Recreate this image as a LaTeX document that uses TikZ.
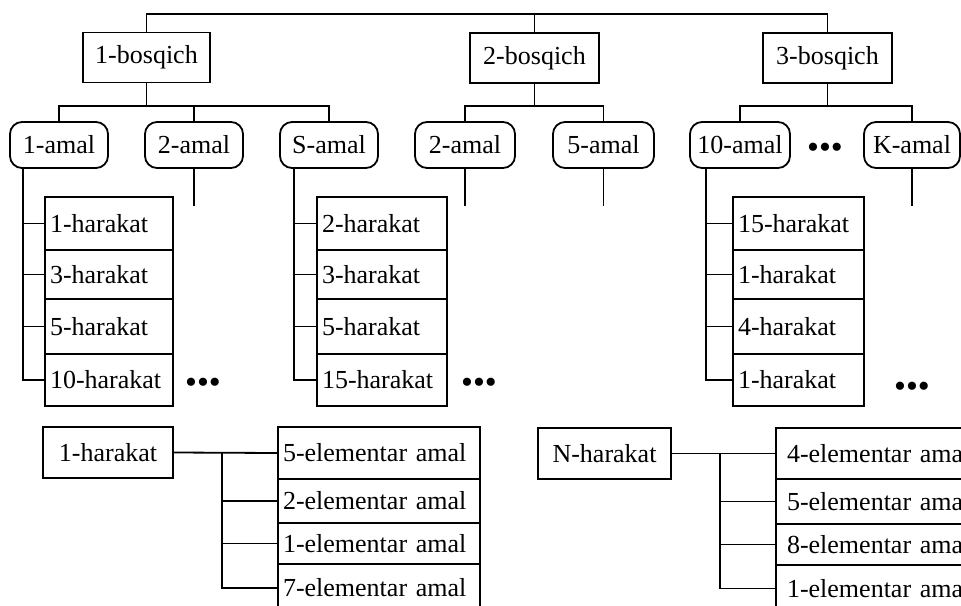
\documentclass[tikz,border=0pt]{standalone}
\usepackage{fontspec}
\setmainfont{Liberation Serif}
\begin{document}
\begin{tikzpicture}[x=1pt,y=-1pt,line width=1.8pt,
  base/.style={draw, line width=1.8pt, inner sep=0pt, font=\fontsize{26}{28}\selectfont},
  bx/.style={base, rectangle},
  am/.style={base, rounded corners=12pt, minimum height=46pt},
  hr/.style={base, rectangle, inner xsep=5pt, inner ysep=0pt, align=left},
  dots/.style={inner sep=0pt, font=\fontsize{34}{36}\selectfont}]
\useasboundingbox (0,0) rectangle (961,605);
\clip (0,0) rectangle (961,605);

% stages
\node[bx, minimum width=127pt, minimum height=50pt] (b1) at (146.5,57.5) {1-bosqich};
\node[bx, minimum width=129pt, minimum height=50pt] (b2) at (534.5,58) {2-bosqich};
\node[bx, minimum width=129pt, minimum height=50pt] (b3) at (827.5,58) {3-bosqich};
\coordinate (top) at (0,14);
\draw (b1.north) -- (b1.north |- top) -- (b3.north |- top) -- (b3.north);
\draw (b2.north) -- (b2.north |- top);

% actions
\node[am, minimum width=98pt] (a1) at (59,145) {1-amal};
\node[am, minimum width=98pt] (a2) at (194,145) {2-amal};
\node[am, minimum width=98pt] (aS) at (329,145) {S-amal};
\node[am, minimum width=100pt] (a22) at (465,145) {2-amal};
\node[am, minimum width=101pt] (a5) at (603.5,145) {5-amal};
\node[am, minimum width=100pt] (a10) at (740,145) {10-amal};
\node[dots] (dt) at (825,151) {•••};
\node[am, minimum width=96pt] (aK) at (912,145) {K-amal};

\coordinate (l1) at (0,106);
\draw (b1.south) -- (b1.south |- l1);
\draw (a1.north) -- (a1.north |- l1) -- (aS.north |- l1) -- (aS.north);
\draw (a2.north) -- (a2.north |- l1);
\draw (b2.south) -- (b2.south |- l1);
\draw (a22.north) -- (a22.north |- l1) -- (a5.north |- l1) -- (a5.north);
\draw (b3.south) -- (b3.south |- l1);
\draw (a10.north) -- (a10.north |- l1) -- (aK.north |- l1) -- (aK.north);

% short stems
\coordinate (e) at (0,206);
\draw (a2.south) -- (a2.south |- e);
\draw (a22.south) -- (a22.south |- e);
\draw (a5.south) -- (a5.south |- e);
\draw (aK.south) -- (aK.south |- e);

% harakat column 1
\node[hr, text width=118pt, minimum height=53pt] (h11) at (109,223.5) {1-harakat};
\node[hr, text width=118pt, minimum height=49pt] (h12) at (109,274.5) {3-harakat};
\node[hr, text width=118pt, minimum height=55pt] (h13) at (109,326.5) {5-harakat};
\node[hr, text width=118pt, minimum height=52pt] (h14) at (109,380) {10-harakat};
\node[dots] (d1) at (203,386) {•••};
% harakat column 2
\node[hr, text width=120pt, minimum height=53pt] (h21) at (382,223.5) {2-harakat};
\node[hr, text width=120pt, minimum height=49pt] (h22) at (382,274.5) {3-harakat};
\node[hr, text width=120pt, minimum height=55pt] (h23) at (382,326.5) {5-harakat};
\node[hr, text width=120pt, minimum height=52pt] (h24) at (382,380) {15-harakat};
\node[dots] (d2) at (479,386) {•••};
% harakat column 3
\node[hr, text width=121pt, minimum height=53pt] (h31) at (798.5,223.5) {15-harakat};
\node[hr, text width=121pt, minimum height=49pt] (h32) at (798.5,274.5) {1-harakat};
\node[hr, text width=121pt, minimum height=55pt] (h33) at (798.5,326.5) {4-harakat};
\node[hr, text width=121pt, minimum height=52pt] (h34) at (798.5,380) {1-harakat};
\node[dots] (d3) at (912,390) {•••};

\coordinate (s1) at (23,0);
\coordinate (s2) at (294,0);
\coordinate (s3) at (706,0);
\draw (a1.south -| s1) |- (h14.west);
\draw (aS.south -| s2) |- (h24.west);
\draw (a10.south -| s3) |- (h34.west);
\foreach \c/\s in {1/s1,2/s2,3/s3}{
  \foreach \r in {1,2,3}{
    \draw (\s |- h\c\r.west) -- (h\c\r.west);
  }
}

% bottom left
\node[bx, minimum width=130pt, minimum height=51pt] (hb1) at (108,452.5) {1-harakat};
\node[hr, text width=192pt, minimum height=52pt] (el1) at (379,453) {5-elementar amal};
\node[hr, text width=192pt, minimum height=44pt] (el2) at (379,501) {2-elementar amal};
\node[hr, text width=192pt, minimum height=41pt] (el3) at (379,543.5) {1-elementar amal};
\node[hr, text width=192pt, minimum height=48pt] (el4) at (379,588) {7-elementar amal};
\coordinate (v1) at (222,0);
\draw (hb1.east) -- (el1.west);
\draw (v1 |- el1.west) |- (el4.west);
\draw (v1 |- el2.west) -- (el2.west);
\draw (v1 |- el3.west) -- (el3.west);

% bottom right
\node[bx, minimum width=133pt, minimum height=51pt] (hb2) at (604.5,453.5) {N-harakat};
\node[hr, text width=192pt, minimum height=51pt] (er1) at (877,453.5) {\hspace*{6pt}4-elementar amal};
\node[hr, text width=192pt, minimum height=45pt] (er2) at (877,501.5) {\hspace*{6pt}5-elementar amal};
\node[hr, text width=192pt, minimum height=41pt] (er3) at (877,544.5) {\hspace*{6pt}8-elementar amal};
\node[hr, text width=192pt, minimum height=47pt] (er4) at (877,588.5) {\hspace*{6pt}1-elementar amal};
\coordinate (v2) at (720,0);
\draw (hb2.east) -- (er1.west);
\draw (v2 |- er1.west) |- (er4.west);
\draw (v2 |- er2.west) -- (er2.west);
\draw (v2 |- er3.west) -- (er3.west);
\end{tikzpicture}
\end{document}
